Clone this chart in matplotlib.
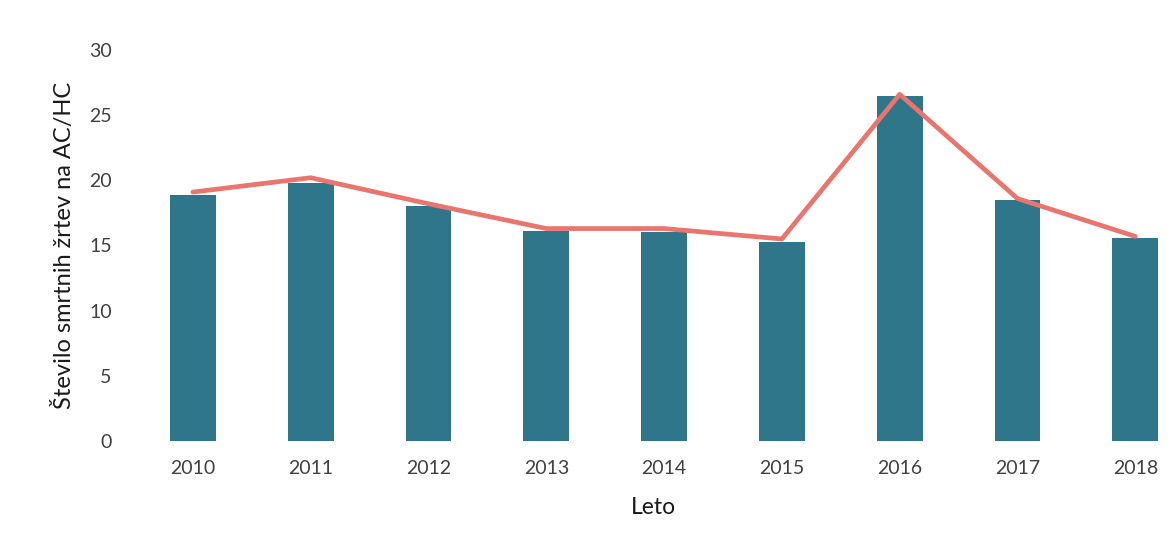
import matplotlib
matplotlib.use("Agg")
import matplotlib.pyplot as plt

years = ["2010", "2011", "2012", "2013", "2014", "2015", "2016", "2017", "2018"]
bar_values = [18.9, 19.8, 18.0, 16.1, 16.0, 15.3, 26.5, 18.5, 15.6]
line_values = [19.1, 20.2, 18.2, 16.3, 16.3, 15.5, 26.6, 18.6, 15.7]
y_ticks = [0, 5, 10, 15, 20, 25, 30]

plt.rcParams['font.family'] = ['Lato', 'DejaVu Sans']

fig = plt.figure(figsize=(11.73, 5.5), dpi=100)
ax = fig.add_axes([134/1173, 109/550, (1173-134)/1173, 391/550])

x = list(range(len(years)))
ax.bar(x, bar_values, width=0.39, color="#2f768b", zorder=2)
ax.plot(x, line_values, color="#e8756e", linewidth=3.4, zorder=3, solid_capstyle="round")

ax.set_xlim(-0.5, 8.32)
ax.set_ylim(0, 30)
ax.set_yticks(y_ticks)
ax.set_xticks(x)
ax.set_xticklabels(years)
for s in ax.spines.values():
    s.set_visible(False)
ax.tick_params(axis="both", length=0, labelsize=14, colors="#404040")
ax.tick_params(axis="y", pad=16)
ax.tick_params(axis="x", pad=14)

ax.set_ylabel("Število smrtnih žrtev na AC/HC", fontsize=17, color="#1a1a1a", labelpad=10)
ax.set_xlabel("Leto", fontsize=16.5, color="#1a1a1a", labelpad=14)

fig.savefig("out.png", dpi=100)
